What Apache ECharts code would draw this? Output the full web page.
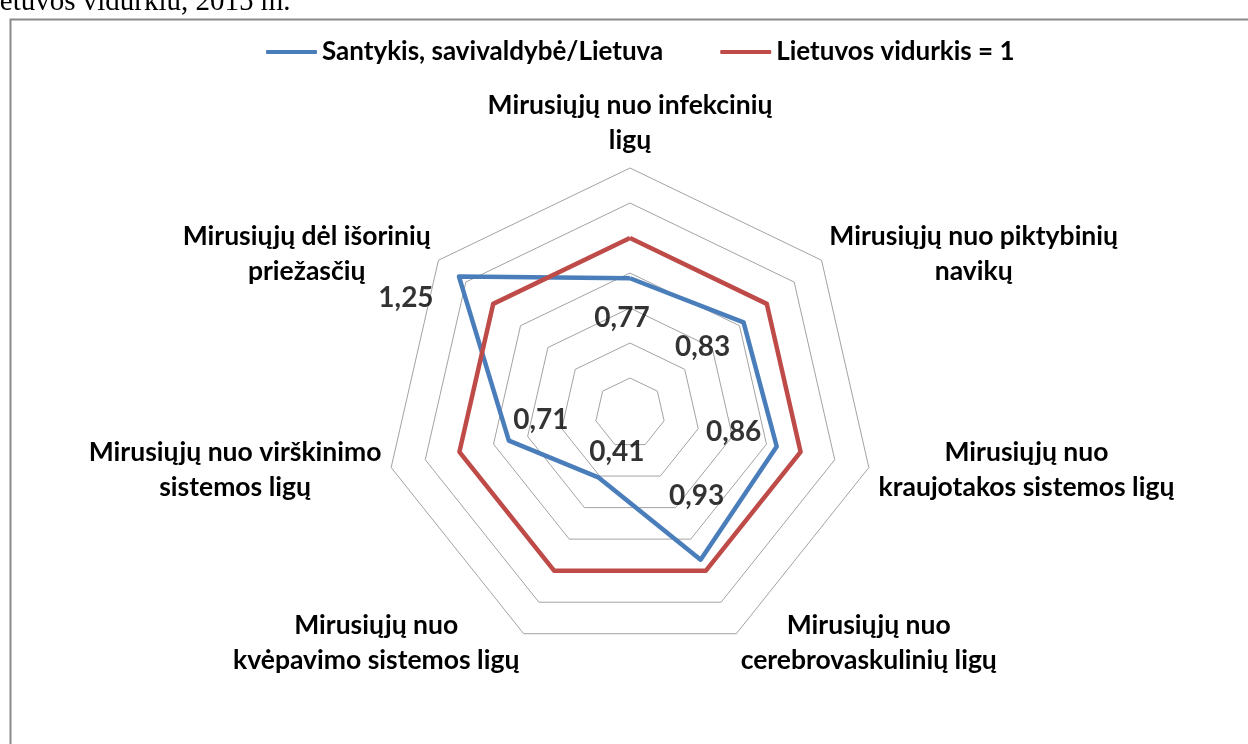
<!DOCTYPE html>
<html><head><meta charset="utf-8">
<script src="https://cdn.jsdelivr.net/npm/echarts@6/dist/echarts.min.js"></script>
<style>html,body{margin:0;padding:0;background:#fff;overflow:hidden}#c{width:1248px;height:744px}</style>
</head><body><div id="c"></div>
<script>
// ---- data ----
const categories = [
  'Mirusiųjų nuo infekcinių\nligų',
  'Mirusiųjų nuo piktybinių\nnavikų',
  'Mirusiųjų nuo\nkraujotakos sistemos ligų',
  'Mirusiųjų nuo\ncerebrovaskulinių ligų',
  'Mirusiųjų nuo\nkvėpavimo sistemos ligų',
  'Mirusiųjų nuo virškinimo\nsistemos ligų',
  'Mirusiųjų dėl išorinių\npriežasčių'
];
const ratioValues = [0.77, 0.83, 0.86, 0.93, 0.41, 0.71, 1.25];
const averageValues = [1, 1, 1, 1, 1, 1, 1];
const seriesNames = ['Santykis, savivaldybė/Lietuva', 'Lietuvos vidurkis = 1'];
const axisMin = 0;
const axisMax = 1.4;
const ringCount = 7;
const headerText = 'Lietuvos vidurkiu, 2015 m.';

// ---- layout / style ----
const FONT = 'Lato';
const CENTER = [630, 413];
const RADIUS = 245;
const NAME_SIZE = 26.5;
const LEGEND_SIZE = 26;
const LABEL_SIZE = 28;
const BLUE = '#4a7ebb';
const RED = '#be4b48';
// label offsets (px) relative to each point, in category order
const labelOffsets = [[-8, 40], [-41, 25], [-43, -15], [-4, -64], [18, -26], [32, -21], [-53, 21]];

// ECharts radar runs counter-clockwise; the reference runs clockwise from the top
const n = categories.length;
const radarOrder = [0].concat(Array.from({length: n - 1}, (_, k) => n - 1 - k));
const reorder = arr => radarOrder.map(i => arr[i]);

const chart = echarts.init(document.getElementById('c'));
chart.setOption({
  animation: false,
  backgroundColor: '#fff',
  textStyle: {fontFamily: FONT},
  graphic: [{
    type: 'rect', left: 8, top: 17, silent: true,
    shape: {width: 1400, height: 900},
    style: {fill: 'none', stroke: '#898989', lineWidth: 2}
  }],
  title: {
    text: headerText, left: -26, top: -12, padding: 0,
    textStyle: {fontFamily: 'Liberation Serif', fontWeight: 'normal', fontSize: 29, color: '#000'}
  },
  legend: {
    top: 34, left: 261,
    itemWidth: 51, itemHeight: 4, itemGap: 57,
    icon: 'roundRect',
    data: seriesNames,
    textStyle: {fontFamily: FONT, fontWeight: 'bold', fontSize: LEGEND_SIZE, color: '#000'}
  },
  radar: {
    center: CENTER, radius: RADIUS, startAngle: 90,
    shape: 'polygon', splitNumber: ringCount,
    indicator: reorder(categories).map(c => ({name: c, min: axisMin, max: axisMax})),
    axisName: {
      color: '#000',
      formatter: name => name.split('\n').map(l => '{n|' + l + '}').join('\n'),
      rich: {n: {align: 'center', fontFamily: FONT, fontWeight: 'bold', fontSize: NAME_SIZE, lineHeight: 35, color: '#000'}}
    },
    nameGap: 10,
    axisLine: {show: false},
    axisTick: {show: false},
    axisLabel: {show: false},
    splitArea: {show: false},
    splitLine: {lineStyle: {color: '#a3a3a3', width: 1}}
  },
  polar: {center: CENTER, radius: RADIUS},
  angleAxis: {
    type: 'category', data: categories, startAngle: 90, clockwise: true, boundaryGap: false,
    axisLine: {show: false}, axisTick: {show: false}, axisLabel: {show: false}, splitLine: {show: false}
  },
  radiusAxis: {
    min: axisMin, max: axisMax,
    axisLine: {show: false}, axisTick: {show: false}, axisLabel: {show: false}, splitLine: {show: false}
  },
  series: [
    {
      type: 'radar', name: seriesNames[0], symbol: 'none', z: 3,
      lineStyle: {color: BLUE, width: 4.5},
      itemStyle: {color: BLUE},
      data: [{name: seriesNames[0], value: reorder(ratioValues)}]
    },
    {
      type: 'radar', name: seriesNames[1], symbol: 'none', z: 4,
      lineStyle: {color: RED, width: 4.5},
      itemStyle: {color: RED},
      data: [{name: seriesNames[1], value: reorder(averageValues)}]
    },
    {
      type: 'scatter', coordinateSystem: 'polar', symbolSize: 1, z: 5, silent: true,
      itemStyle: {color: 'rgba(0,0,0,0)'},
      label: {
        show: true, position: 'inside', color: '#000',
        fontFamily: FONT, fontWeight: 'bold', fontSize: LABEL_SIZE,
        formatter: p => p.value[0].toFixed(2).replace('.', ',')
      },
      data: ratioValues.map((v, i) => ({value: [v, categories[i]], label: {offset: labelOffsets[i]}}))
    }
  ]
});
</script></body></html>
